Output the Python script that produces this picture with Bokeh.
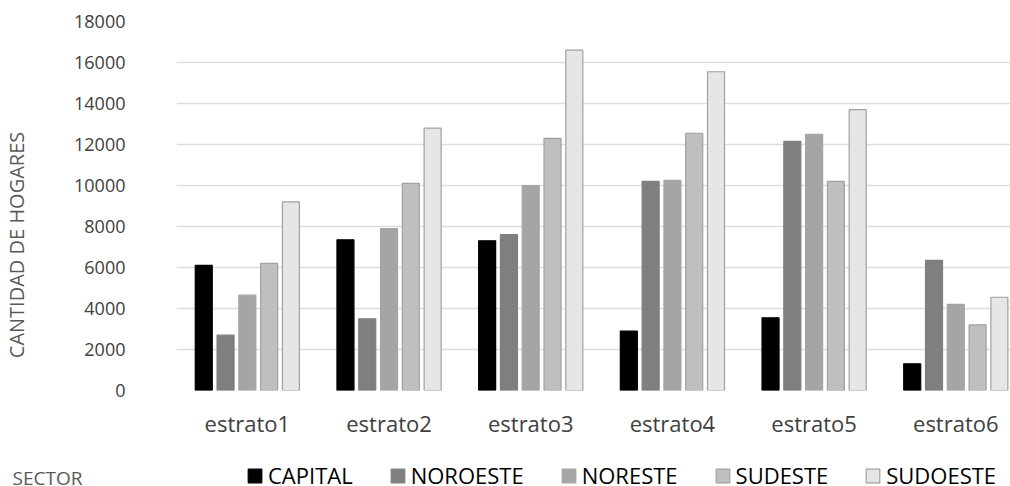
from bokeh.plotting import figure
from bokeh.models import Range1d, FixedTicker, Legend, LegendItem, Label, ColumnDataSource
from bokeh.embed import file_html
from bokeh.resources import INLINE

categories = ["estrato1", "estrato2", "estrato3", "estrato4", "estrato5", "estrato6"]
sectors = ["CAPITAL", "NOROESTE", "NORESTE", "SUDESTE", "SUDOESTE"]
capital = [6100, 7350, 7300, 2900, 3550, 1300]
noroeste = [2700, 3500, 7600, 10200, 12150, 6350]
noreste = [4650, 7900, 10000, 10250, 12500, 4200]
sudeste = [6200, 10100, 12300, 12550, 10200, 3200]
sudoeste = [9200, 12800, 16600, 15550, 13700, 4550]
y_ticks = [0, 2000, 4000, 6000, 8000, 10000, 12000, 14000, 16000, 18000]
y_title = "CANTIDAD DE HOGARES"
legend_title = "SECTOR"

series = [capital, noroeste, noreste, sudeste, sudoeste]
fills = ["#000000", "#7f7f7f", "#a5a5a5", "#bfbfbf", "#e6e6e6"]
lines = ["#000000", "#7f7f7f", "#a5a5a5", "#a0a0a0", "#a0a0a0"]

p = figure(width=1010, height=440, output_backend="svg", toolbar_location=None,
           x_range=Range1d(-0.5, 5.386), y_range=Range1d(0, 18000),
           min_border_left=176, min_border_right=0, min_border_top=21, min_border_bottom=50)
p.outline_line_color = None

step = 0.1538
bw = 0.12
for j, (name, vals) in enumerate(zip(sectors, series)):
    xs = [i + (j - 2) * step for i in range(len(categories))]
    src = ColumnDataSource(dict(x=xs, top=vals))
    p.vbar(x="x", top="top", width=bw, bottom=0, source=src,
           fill_color=fills[j], line_color=lines[j], line_width=1.2)

p.yaxis.ticker = FixedTicker(ticks=y_ticks)
p.yaxis.axis_line_color = None
p.yaxis.major_tick_line_color = None
p.yaxis.minor_tick_line_color = None
p.yaxis.major_label_text_font = "Open Sans"
p.yaxis.major_label_text_font_size = "18px"
p.yaxis.major_label_text_color = "#404040"
p.yaxis.major_label_standoff = 45
# trailing no-break spaces shift the centred title down to where the reference has it
p.yaxis.axis_label = y_title + "\u00a0" * 15
p.yaxis.axis_label_text_font = "Open Sans"
p.yaxis.axis_label_text_font_size = "20px"
p.yaxis.axis_label_text_font_style = "normal"
p.yaxis.axis_label_text_color = "#595959"
p.yaxis.axis_label_standoff = 41

p.xaxis.ticker = FixedTicker(ticks=list(range(len(categories))))
p.xaxis.major_label_overrides = {i: c for i, c in enumerate(categories)}
p.xaxis.axis_line_color = None
p.xaxis.major_tick_line_color = None
p.xaxis.minor_tick_line_color = None
p.xaxis.major_label_text_font = "Open Sans"
p.xaxis.major_label_text_font_size = "22px"
p.xaxis.major_label_text_color = "#404040"
p.xaxis.major_label_standoff = 11

p.xgrid.grid_line_color = None
p.ygrid.grid_line_color = "#dedede"
p.ygrid.grid_line_width = 1.5

# legend row (separate root so it is not aligned to the main frame)
q = figure(width=1010, height=46, output_backend="svg", toolbar_location=None,
           x_range=Range1d(0, 1010), y_range=Range1d(0, 46),
           x_axis_type=None, y_axis_type=None,
           min_border_left=0, min_border_right=0, min_border_top=0, min_border_bottom=0)
q.outline_line_color = None
q.grid.grid_line_color = None

items = []
for j, name in enumerate(sectors):
    r = q.vbar(x=[500], top=[-20], bottom=-30, width=1,
               fill_color=fills[j], line_color=lines[j], line_width=1.2)
    items.append(LegendItem(label=name, renderers=[r]))

legend = Legend(items=items, orientation="horizontal", location=(246, -4),
                glyph_width=17, glyph_height=17, label_standoff=5, spacing=36,
                padding=0, margin=0, border_line_color=None, background_fill_alpha=0,
                label_text_font="Open Sans", label_text_font_size="22px",
                label_text_color="#000000", label_height=26)
q.add_layout(legend, "center")
q.add_layout(Label(x=12, y=9, text=legend_title, text_align="left", text_baseline="middle",
                   text_font="Open Sans", text_font_size="19px", text_color="#595959"))

open("out.html", "w").write(file_html([p, q], INLINE))
